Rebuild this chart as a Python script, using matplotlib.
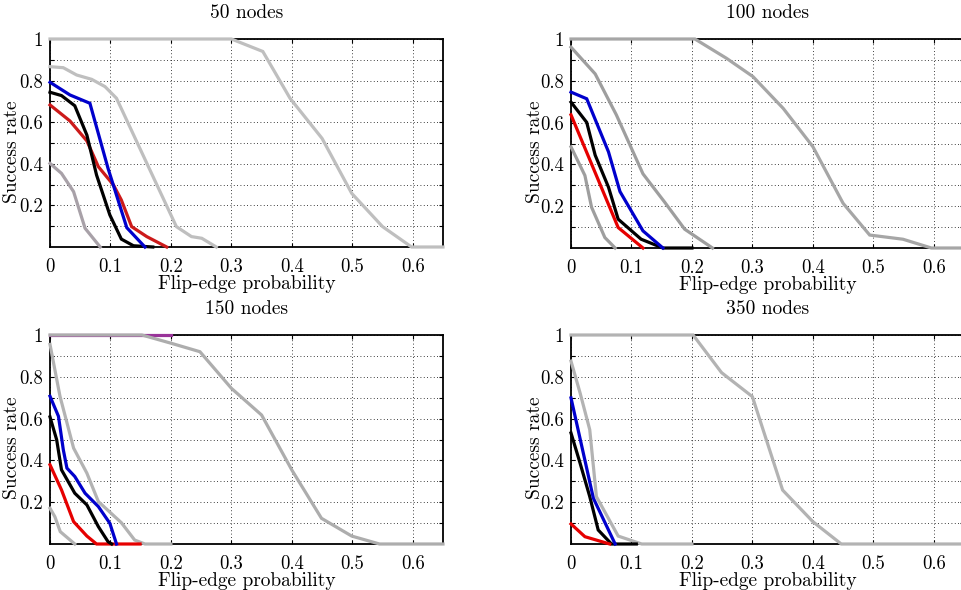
import matplotlib
matplotlib.use("Agg")
import matplotlib.pyplot as plt

plt.rcParams['font.family'] = ['cmr10', 'DejaVu Serif']
plt.rcParams['axes.unicode_minus'] = False

titles = ["50 nodes", "100 nodes", "150 nodes", "350 nodes"]
xlabel = "Flip-edge probability"
ylabel = "Success rate"
xtick_vals = [0, 0.1, 0.2, 0.3, 0.4, 0.5, 0.6]
xtick_labels = ["0", "0.1", "0.2", "0.3", "0.4", "0.5", "0.6"]
ytick_vals = [0.1, 0.2, 0.3, 0.4, 0.5, 0.6, 0.7, 0.8, 0.9, 1.0]
ytick_labels = ["", "0.2", "", "0.4", "", "0.6", "", "0.8", "", "1"]

# ---- panel 1: 50 nodes ----
p1_top_x = [0, 0.30, 0.352, 0.397, 0.45, 0.499, 0.55, 0.598, 0.65]
p1_top_y = [1, 1, 0.94, 0.715, 0.522, 0.258, 0.098, 0, 0]
p1_gray2_x = [0, 0.022, 0.044, 0.069, 0.091, 0.11, 0.209, 0.234, 0.251, 0.275]
p1_gray2_y = [0.867, 0.862, 0.827, 0.806, 0.771, 0.715, 0.098, 0.05, 0.042, 0]
p1_blue_x = [0, 0.033, 0.066, 0.096, 0.127, 0.157]
p1_blue_y = [0.792, 0.731, 0.691, 0.378, 0.093, 0]
p1_black_x = [0, 0.019, 0.041, 0.061, 0.077, 0.099, 0.118, 0.138, 0.17]
p1_black_y = [0.744, 0.728, 0.679, 0.538, 0.346, 0.154, 0.038, 0.006, 0]
p1_red_x = [0, 0.033, 0.061, 0.08, 0.105, 0.118, 0.135, 0.16, 0.193]
p1_red_y = [0.683, 0.606, 0.51, 0.386, 0.298, 0.226, 0.098, 0.05, 0]
p1_low_x = [0, 0.019, 0.039, 0.058, 0.083]
p1_low_y = [0.402, 0.354, 0.266, 0.09, 0]

# ---- panel 2: 100 nodes ----
p2_top_x = [0, 0.205, 0.257, 0.301, 0.351, 0.40, 0.45, 0.494, 0.549, 0.596, 0.65]
p2_top_y = [1, 1, 0.908, 0.82, 0.668, 0.485, 0.214, 0.062, 0.042, 0, 0]
p2_gray2_x = [0, 0.04, 0.075, 0.119, 0.155, 0.188, 0.234]
p2_gray2_y = [0.961, 0.833, 0.637, 0.355, 0.219, 0.09, 0]
p2_blue_x = [0, 0.026, 0.062, 0.081, 0.119, 0.152]
p2_blue_y = [0.746, 0.714, 0.46, 0.27, 0.082, 0]
p2_black_x = [0, 0.026, 0.04, 0.062, 0.078, 0.116, 0.152, 0.2]
p2_black_y = [0.698, 0.601, 0.444, 0.291, 0.138, 0.042, 0, 0]
p2_red_x = [0, 0.078, 0.119]
p2_red_y = [0.637, 0.098, 0]
p2_low_x = [0, 0.023, 0.034, 0.056, 0.073]
p2_low_y = [0.484, 0.347, 0.195, 0.05, 0]

# ---- panel 3: 150 nodes ----
p3_purple_x = [0, 0.2]
p3_purple_y = [1, 1]
p3_top_x = [0, 0.152, 0.201, 0.248, 0.30, 0.35, 0.40, 0.449, 0.499, 0.545, 0.65]
p3_top_y = [1, 1, 0.96, 0.92, 0.745, 0.617, 0.354, 0.123, 0.038, 0, 0]
p3_gray2_x = [0, 0.0165, 0.039, 0.061, 0.08, 0.118, 0.14, 0.157, 0.2]
p3_gray2_y = [0.955, 0.707, 0.459, 0.339, 0.203, 0.102, 0.019, 0, 0]
p3_blue_x = [0, 0.014, 0.022, 0.028, 0.041, 0.058, 0.08, 0.099, 0.11]
p3_blue_y = [0.707, 0.611, 0.451, 0.363, 0.323, 0.243, 0.179, 0.099, 0]
p3_black_x = [0, 0.011, 0.019, 0.041, 0.061, 0.08, 0.096, 0.102]
p3_black_y = [0.608, 0.499, 0.355, 0.243, 0.187, 0.083, 0.011, 0]
p3_red_x = [0, 0.019, 0.039, 0.061, 0.077, 0.149]
p3_red_y = [0.379, 0.259, 0.107, 0.038, 0, 0]
p3_low_x = [0, 0.008, 0.017, 0.041]
p3_low_y = [0.171, 0.131, 0.059, 0]

# ---- panel 4: 350 nodes ----
p4_top_x = [0, 0.202, 0.249, 0.30, 0.35, 0.40, 0.447, 0.65]
p4_top_y = [1, 1, 0.82, 0.705, 0.258, 0.107, 0, 0]
p4_gray2_x = [0, 0.015, 0.031, 0.042, 0.078, 0.117, 0.2]
p4_gray2_y = [0.875, 0.723, 0.547, 0.227, 0.038, 0, 0]
p4_blue_x = [0, 0.037, 0.073]
p4_blue_y = [0.699, 0.219, 0]
p4_black_x = [0, 0.015, 0.031, 0.045, 0.067, 0.108]
p4_black_y = [0.531, 0.387, 0.227, 0.067, 0, 0]
p4_red_x = [0, 0.023, 0.064]
p4_red_y = [0.096, 0.035, 0]

LIGHT = (0.75, 0.75, 0.75)
MID = (0.62, 0.62, 0.62)
LOWG = (0.66, 0.63, 0.66)
RED = (0.9, 0.0, 0.0)
BLUE = (0.0, 0.0, 0.8)
PURPLE = (0.6, 0.2, 0.6)

panels = [
    [(p1_top_x, p1_top_y, LIGHT), (p1_gray2_x, p1_gray2_y, LIGHT),
     (p1_low_x, p1_low_y, LOWG), (p1_red_x, p1_red_y, (0.8, 0.1, 0.1)),
     (p1_black_x, p1_black_y, 'black'), (p1_blue_x, p1_blue_y, BLUE)],
    [(p2_top_x, p2_top_y, (0.65, 0.65, 0.65)), (p2_gray2_x, p2_gray2_y, MID),
     (p2_low_x, p2_low_y, MID), (p2_black_x, p2_black_y, 'black'),
     (p2_red_x, p2_red_y, RED), (p2_blue_x, p2_blue_y, BLUE)],
    [(p3_purple_x, p3_purple_y, PURPLE), (p3_top_x, p3_top_y, (0.68, 0.68, 0.68)),
     (p3_gray2_x, p3_gray2_y, (0.7, 0.7, 0.7)), (p3_low_x, p3_low_y, (0.7, 0.7, 0.7)),
     (p3_red_x, p3_red_y, RED), (p3_black_x, p3_black_y, 'black'),
     (p3_blue_x, p3_blue_y, BLUE)],
    [(p4_top_x, p4_top_y, (0.7, 0.7, 0.7)), (p4_gray2_x, p4_gray2_y, (0.7, 0.7, 0.7)),
     (p4_black_x, p4_black_y, 'black'), (p4_blue_x, p4_blue_y, BLUE),
     (p4_red_x, p4_red_y, RED)],
]

W, H = 961, 590
fig = plt.figure(figsize=(W / 100, H / 100), dpi=100)

rects = [(50, 39, 393, 208), (571, 39, 393, 209), (50, 335, 393, 209), (571, 335, 393, 209)]
ylab_x = [-0.074, -0.069, -0.074, -0.069]

for i, (r, lines, title) in enumerate(zip(rects, panels, titles)):
    l, t, w, h = r
    ax = fig.add_axes([l / W, (H - t - h) / H, w / W, h / H])
    for xs, ys, c in lines:
        ax.plot(xs, ys, color=c, lw=2.3, zorder=3, clip_on=False, solid_joinstyle='miter')
    ax.set_xlim(0, 0.65)
    ax.set_ylim(0, 1)
    ax.set_xticks(xtick_vals)
    ax.set_xticklabels(xtick_labels)
    ax.set_yticks(ytick_vals)
    ax.set_yticklabels(ytick_labels)
    ax.tick_params(direction='in', length=3, width=0.8, labelsize=13.5,
                   top=True, right=True)
    ax.tick_params(axis='x', pad=8)
    ax.tick_params(axis='y', pad=5)
    ax.grid(True, color='black', linestyle=(0, (1, 3)), linewidth=0.6)
    for s in ax.spines.values():
        s.set_linewidth(1.3)
        s.set_zorder(2.5)
    ax.set_xlabel(xlabel, fontsize=14, labelpad=-1)
    ax.set_ylabel(ylabel, fontsize=14)
    ax.yaxis.set_label_coords(ylab_x[i], 0.46)
    ax.set_title(title, fontsize=14, pad=15)

fig.savefig("out.png", dpi=100)
